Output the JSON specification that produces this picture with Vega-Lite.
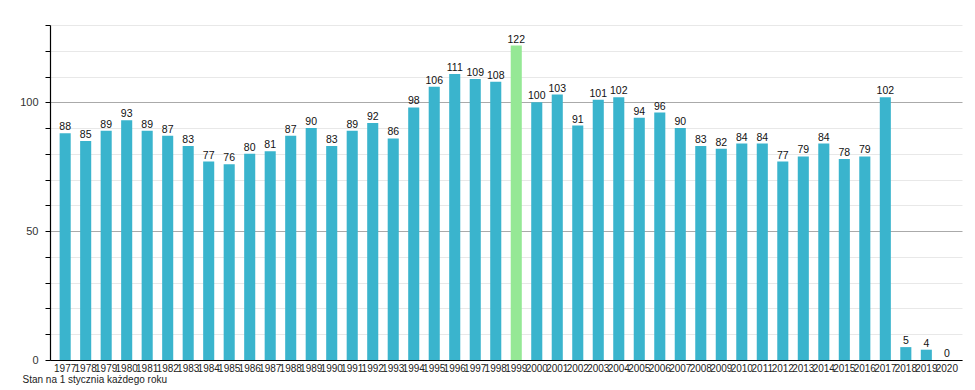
{
  "$schema": "https://vega.github.io/schema/vega-lite/v6.json",
  "width": 912,
  "height": 335,
  "autosize": {"type": "none"},
  "padding": {"left": 50, "top": 25, "right": 13, "bottom": 30},
  "background": "white",
  "config": {"view": {"stroke": null}, "font": "Liberation Sans"},
  "data": {"values": [
    {"year": "1977", "v": 88, "hl": "n"}, {"year": "1978", "v": 85, "hl": "n"},
    {"year": "1979", "v": 89, "hl": "n"}, {"year": "1980", "v": 93, "hl": "n"},
    {"year": "1981", "v": 89, "hl": "n"}, {"year": "1982", "v": 87, "hl": "n"},
    {"year": "1983", "v": 83, "hl": "n"}, {"year": "1984", "v": 77, "hl": "n"},
    {"year": "1985", "v": 76, "hl": "n"}, {"year": "1986", "v": 80, "hl": "n"},
    {"year": "1987", "v": 81, "hl": "n"}, {"year": "1988", "v": 87, "hl": "n"},
    {"year": "1989", "v": 90, "hl": "n"}, {"year": "1990", "v": 83, "hl": "n"},
    {"year": "1991", "v": 89, "hl": "n"}, {"year": "1992", "v": 92, "hl": "n"},
    {"year": "1993", "v": 86, "hl": "n"}, {"year": "1994", "v": 98, "hl": "n"},
    {"year": "1995", "v": 106, "hl": "n"}, {"year": "1996", "v": 111, "hl": "n"},
    {"year": "1997", "v": 109, "hl": "n"}, {"year": "1998", "v": 108, "hl": "n"},
    {"year": "1999", "v": 122, "hl": "y"}, {"year": "2000", "v": 100, "hl": "n"},
    {"year": "2001", "v": 103, "hl": "n"}, {"year": "2002", "v": 91, "hl": "n"},
    {"year": "2003", "v": 101, "hl": "n"}, {"year": "2004", "v": 102, "hl": "n"},
    {"year": "2005", "v": 94, "hl": "n"}, {"year": "2006", "v": 96, "hl": "n"},
    {"year": "2007", "v": 90, "hl": "n"}, {"year": "2008", "v": 83, "hl": "n"},
    {"year": "2009", "v": 82, "hl": "n"}, {"year": "2010", "v": 84, "hl": "n"},
    {"year": "2011", "v": 84, "hl": "n"}, {"year": "2012", "v": 77, "hl": "n"},
    {"year": "2013", "v": 79, "hl": "n"}, {"year": "2014", "v": 84, "hl": "n"},
    {"year": "2015", "v": 78, "hl": "n"}, {"year": "2016", "v": 79, "hl": "n"},
    {"year": "2017", "v": 102, "hl": "n"}, {"year": "2018", "v": 5, "hl": "n"},
    {"year": "2019", "v": 4, "hl": "n"}, {"year": "2020", "v": 0, "hl": "n"}
  ]},
  "encoding": {
    "x": {
      "field": "year", "type": "nominal", "sort": null,
      "scale": {"paddingInner": 0.46, "paddingOuter": 0.47},
      "axis": {
        "title": "Stan na 1 stycznia każdego roku",
        "titleAnchor": "start", "titleAlign": "left", "titleX": -28, "titleY": 14,
        "titleFontWeight": "normal", "titleFontSize": 10, "titleColor": "#222",
        "titleFont": "Liberation Sans",
        "labelAngle": 0, "labelFontSize": 10, "labelColor": "#222",
        "labelOverlap": false, "labelPadding": 3, "labelFont": "Liberation Sans",
        "ticks": false, "domainColor": "#000", "domainWidth": 1.2, "grid": false
      }
    },
    "y": {
      "field": "v", "type": "quantitative",
      "scale": {"domain": [0, 130], "nice": false},
      "axis": {
        "title": null,
        "values": [0, 10, 20, 30, 40, 50, 60, 70, 80, 90, 100, 110, 120, 130],
        "labelExpr": "datum.value % 50 === 0 ? datum.label : ''",
        "labelFontSize": 11, "labelColor": "#333", "labelPadding": 7,
        "labelFont": "Liberation Sans",
        "tickSize": 5, "tickColor": "#000", "domainColor": "#000", "domainWidth": 1.2,
        "gridColor": {"condition": {"test": "datum.value % 50 === 0", "value": "#aaaaaa"}, "value": "#e8e8e8"},
        "gridWidth": 1
      }
    }
  },
  "layer": [
    {
      "mark": {"type": "bar"},
      "encoding": {
        "color": {
          "field": "hl", "type": "nominal",
          "scale": {"domain": ["n", "y"], "range": ["#3AB4CD", "#95E895"]},
          "legend": null
        }
      }
    },
    {
      "mark": {"type": "text", "dy": -6, "fontSize": 10.5, "color": "#111", "font": "Liberation Sans"},
      "encoding": {"text": {"field": "v", "type": "quantitative"}}
    }
  ]
}
